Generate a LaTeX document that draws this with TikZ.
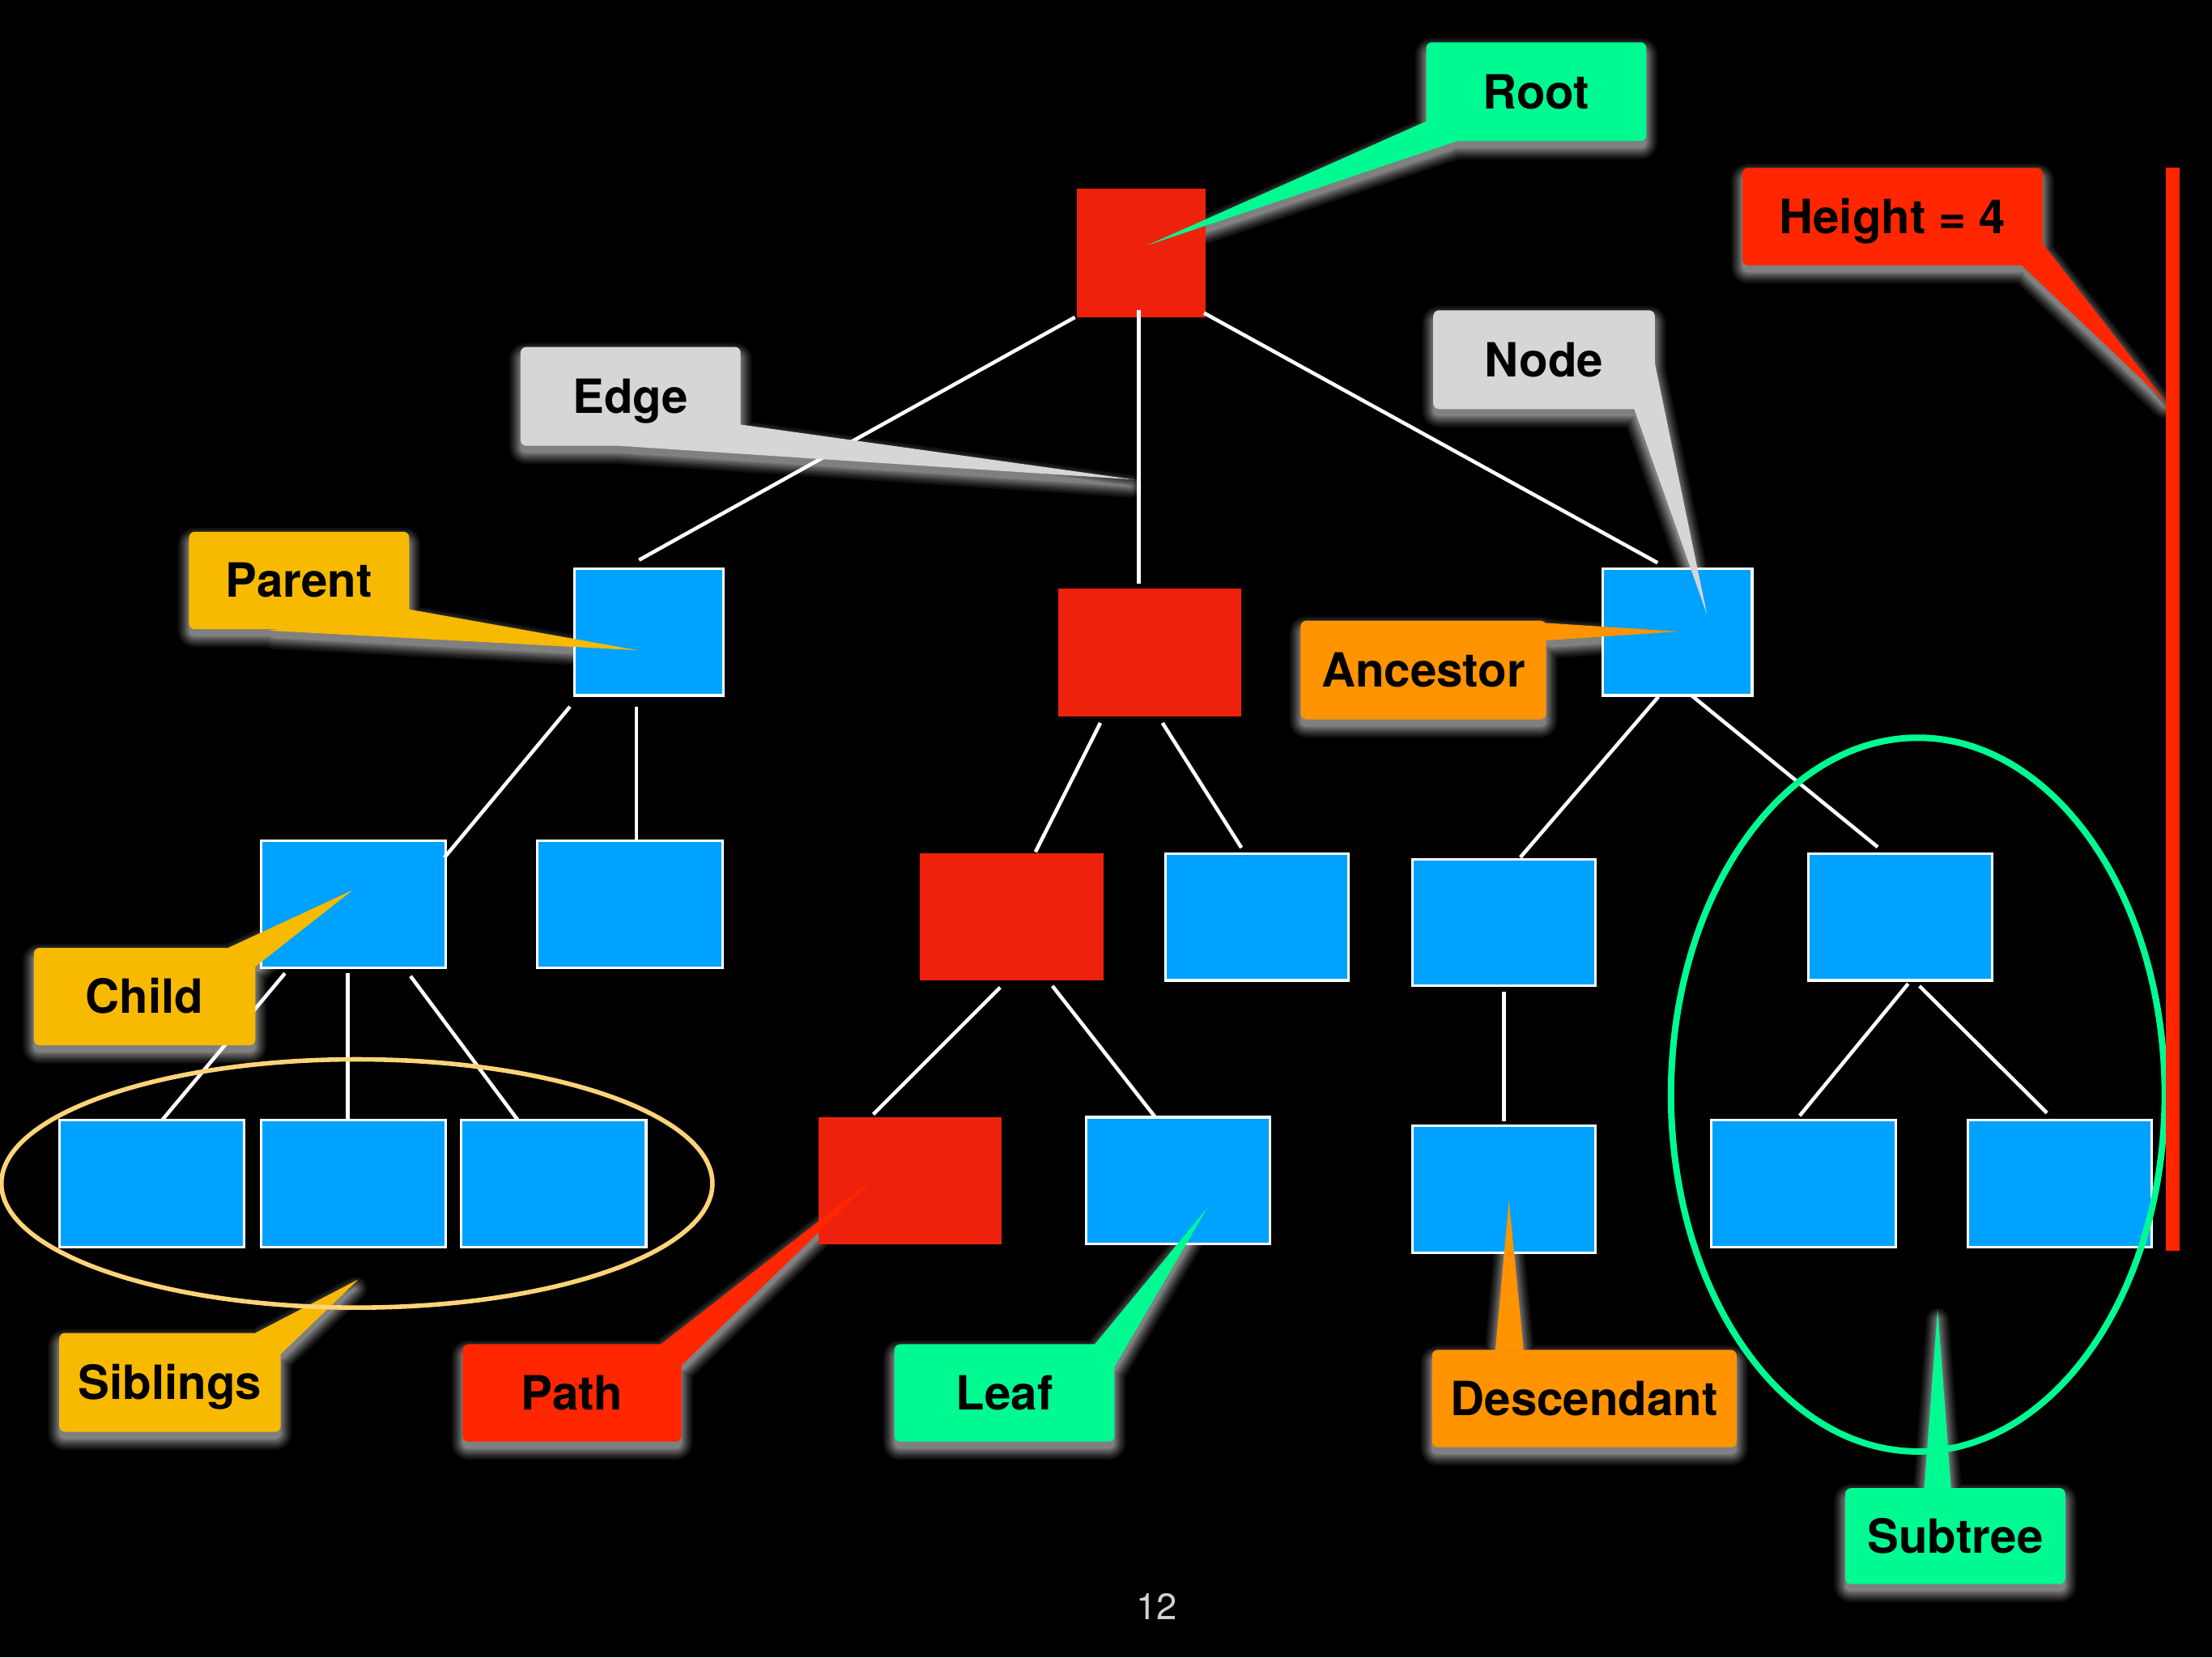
\documentclass[tikz,border=0pt]{standalone}
\usepackage{fontspec}
\setmainfont{TeX Gyre Heros}
\usetikzlibrary{calc}

\definecolor{nodeblue}{HTML}{00A2FF}
\definecolor{nodered}{HTML}{EE220C}
\definecolor{tagmint}{HTML}{00FA92}
\definecolor{tagred}{HTML}{FF2600}
\definecolor{tagorange}{HTML}{FF9300}
\definecolor{tagyellow}{HTML}{F8BA00}
\definecolor{taggrey}{HTML}{D6D6D6}
\definecolor{ringyellow}{HTML}{FFD479}

\pgfdeclarelayer{shade}
\pgfsetlayers{shade,main}

\tikzset{
  treenode/.style={minimum width=130pt, minimum height=90pt, inner sep=0pt, outer sep=0pt},
  bluebox/.style={treenode, fill=nodeblue, draw=white, line width=1.8pt},
  redbox/.style={treenode, fill=nodered},
  edge/.style={draw=white, line width=2.6pt},
  tag/.style={rounded corners=4pt, inner sep=0pt, outer sep=0pt,
    text height=24pt, text depth=0pt, text=black,
    font=\fontsize{33.4}{40}\selectfont\bfseries},
  shadelayer/.style={line join=round, rounded corners=4pt},
}

% callout: name, colour, text, x1, y1, x2, y2, pointer polygon
\newcommand\callout[8]{%
  \begin{pgfonlayer}{shade}
    \foreach \e/\g in {8/5,7/9,6/14,5/19,4/25,3/31,2/37,1/43,0.05/50}{
      \filldraw[shadelayer, fill=white!\g!black, draw=white!\g!black, line width={2*\e*1pt}]
        (#4,#5+5) rectangle (#6,#7+5);
      \filldraw[shadelayer, fill=white!\g!black, draw=white!\g!black, line width={2*\e*1pt}, shift={(0,5)}]
        #8 -- cycle;
    }
  \end{pgfonlayer}
  \node[tag, fill=#2, minimum width={(#6-#4)*1pt}, minimum height={(#7-#5)*1pt}]
    (#1) at ({(#4+#6)/2},{(#5+#7)/2}) {#3};
  \fill[#2] #8 -- cycle;
}

\begin{document}
\begin{tikzpicture}[x=1pt, y=-1pt]
\begin{pgfonlayer}{shade}
  \fill[black] (0,0) rectangle (1568,1175);
\end{pgfonlayer}
\useasboundingbox (0,0) rectangle (1568,1175);

% tree nodes
\node[redbox, minimum width=91pt, minimum height=91pt] (r) at (809,179.4) {};
\node[bluebox, minimum width=106pt] (a) at (460,448) {};
\node[redbox, minimum height=91pt] (b) at (815,462.5) {};
\node[bluebox, minimum width=106pt] (c) at (1189,448) {};
\node[bluebox, minimum width=131pt] (d) at (250.5,641) {};
\node[bluebox, minimum width=131pt] (e) at (446.5,641) {};
\node[redbox] (f) at (717,650) {};
\node[bluebox] (g) at (891,650) {};
\node[bluebox] (h) at (1066,654) {};
\node[bluebox] (i) at (1347,650) {};
\node[bluebox, minimum width=131pt] (j) at (107.5,839) {};
\node[bluebox, minimum width=131pt] (k) at (250.5,839) {};
\node[bluebox, minimum width=131pt] (l) at (392.5,839) {};
\node[redbox] (m) at (645,837) {};
\node[bluebox] (n) at (835,837) {};
\node[bluebox] (o) at (1066,843) {};
\node[bluebox, minimum width=131pt] (p) at (1278.5,839) {};
\node[bluebox] (q) at (1460,839) {};

% edges
\draw[edge] ([shift={(-1.5,0)}]r.south west) -- ([shift={(46,-6)}]a.north west);
\draw[edge] ([shift={(-1.7,-5)}]r.south) -- ([shift={(-7.7,-3)}]b.north);
\draw[edge] ([shift={(-1,-3)}]r.south east) -- ([shift={(39,-4)}]c.north west);
\draw[edge] ([shift={(-3,8)}]a.south west) -- ([shift={(-1,12)}]d.north east);
\draw[edge] ([shift={(-9,8)}]a.south) -- ([shift={(4.5,0)}]e.north);
\draw[edge] ([shift={(17,4)}]d.south west) -- ([shift={(7.5,0)}]j.north);
\draw[edge] ([shift={(-4,4)}]d.south) -- ([shift={(-4,0)}]k.north);
\draw[edge] ([shift={(-25,6)}]d.south east) -- ([shift={(-25.5,0)}]l.north);
\draw[edge] ([shift={(-35,4.5)}]b.south) -- ([shift={(17,-1)}]f.north);
\draw[edge] ([shift={(9,4.5)}]b.south) -- ([shift={(-11,-4)}]g.north);
\draw[edge] ([shift={(-8,5)}]f.south) -- ([shift={(-26,-2)}]m.north);
\draw[edge] ([shift={(29,4)}]f.south) -- ([shift={(-16.5,-0.5)}]n.north);
\draw[edge] ([shift={(-13.5,1)}]c.south) -- ([shift={(11.7,-1.2)}]h.north);
\draw[edge] ([shift={(10,0)}]c.south) -- ([shift={(-16,-4.5)}]i.north);
\draw[edge] ([shift={(0,4)}]h.south) -- ([shift={(0,-3)}]o.north);
\draw[edge] ([shift={(5.6,2.4)}]i.south) -- ([shift={(-2.8,-3)}]p.north);
\draw[edge] ([shift={(13.6,4)}]i.south) -- ([shift={(-9,-5)}]q.north);

% callouts
\callout{root-tag}{tagmint}{Root}{1011}{30}{1167}{100}{(1011,86) -- (1033,100) -- (813,174)}
\callout{edge-tag}{taggrey}{Edge}{369}{246}{525}{316}{(525,301) -- (438,316) -- (804,340)}
\callout{parent-tag}{tagyellow}{Parent}{134}{377}{290}{446}{(290,432) -- (190,447) -- (452,461)}
\callout{child-tag}{tagyellow}{Child}{24}{672}{181}{741}{(161.7,672) -- (181,685.3) -- (250,631)}
\callout{siblings-tag}{tagyellow}{Siblings}{42}{945}{199}{1015}{(181,945) -- (199,960) -- (254,907)}
\callout{path-tag}{tagred}{Path}{328}{953}{483}{1022}{(468.5,953) -- (483,968) -- (621,834)}
\callout{leaf-tag}{tagmint}{Leaf}{634}{953}{790}{1022}{(776,953) -- (790,969) -- (856,856)}
\callout{descendant-tag}{tagorange}{Descendant}{1015}{957}{1231}{1026}{(1060,957) -- (1080,957) -- (1069.6,851)}
\callout{subtree-tag}{tagmint}{Subtree}{1308}{1055}{1464}{1123}{(1364,1055) -- (1383,1055) -- (1373.5,928)}
\callout{ancestor-tag}{tagorange}{Ancestor}{922}{440}{1096}{510}{(1092,441.4) -- (1096,454) -- (1190,447.7)}
\callout{node-tag}{taggrey}{Node}{1016}{220}{1173}{290}{(1173,257.3) -- (1158.4,290) -- (1210,435.6)}
\callout{height-tag}{tagred}{Height = 4}{1235}{119}{1448}{188}{(1448,172.7) -- (1433,188) -- (1535.6,285.4)}

% groupings
\draw[ringyellow, line width=3.2pt] (253,839) ellipse [x radius=252, y radius=88];
\draw[tagmint, line width=4.6pt] (1359.5,776) ellipse [x radius=175, y radius=253];

% height bar
\fill[tagred] (1535,119) rectangle (1545,887);

% page number
\node[text=white!82!black, font=\fontsize{26}{30}\selectfont, inner sep=0pt] (page) at (820,1139) {12};
\end{tikzpicture}
\end{document}
